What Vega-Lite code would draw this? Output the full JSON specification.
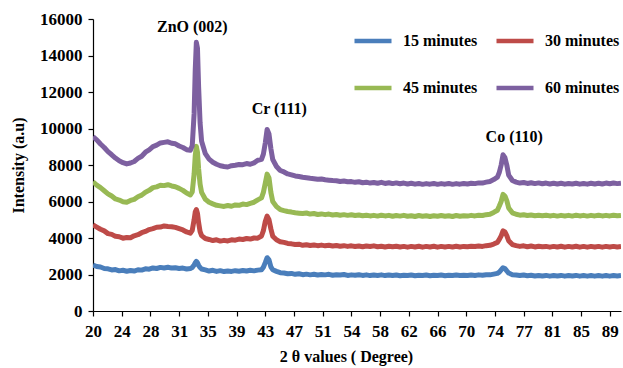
{
  "$schema": "https://vega.github.io/schema/vega-lite/v6.json",
  "width": 528,
  "height": 292,
  "autosize": "none",
  "padding": {"left": 93, "top": 19, "right": 2, "bottom": 57},
  "background": "white",
  "config": {
    "view": {"stroke": null},
    "font": "Liberation Serif",
    "axis": {"labelFont": "Liberation Serif", "titleFont": "Liberation Serif", "labelFontWeight": "bold", "titleFontWeight": "bold", "labelFontSize": 17, "titleFontSize": 16, "labelColor": "#000", "titleColor": "#000", "domainColor": "#000", "tickColor": "#000", "domainWidth": 1.2, "tickWidth": 1.2, "tickSize": 5, "grid": false, "labelOverlap": false}
  },
  "datasets": {
    "xrd": [
      {"t":20,"15":2520,"30":4720,"45":7080,"60":9550},
      {"t":20.5,"15":2440,"30":4600,"45":6900,"60":9380},
      {"t":21,"15":2410,"30":4480,"45":6760,"60":9150},
      {"t":21.5,"15":2330,"30":4390,"45":6590,"60":8960},
      {"t":22,"15":2310,"30":4240,"45":6420,"60":8730},
      {"t":22.5,"15":2250,"30":4200,"45":6300,"60":8560},
      {"t":23,"15":2270,"30":4090,"45":6140,"60":8380},
      {"t":23.5,"15":2200,"30":4070,"45":6080,"60":8230},
      {"t":24,"15":2230,"30":3990,"45":5990,"60":8130},
      {"t":24.5,"15":2180,"30":4030,"45":5960,"60":8060},
      {"t":25,"15":2220,"30":4010,"45":6060,"60":8110},
      {"t":25.5,"15":2190,"30":4120,"45":6120,"60":8190},
      {"t":26,"15":2260,"30":4180,"45":6260,"60":8360},
      {"t":26.5,"15":2240,"30":4290,"45":6350,"60":8480},
      {"t":27,"15":2310,"30":4360,"45":6510,"60":8700},
      {"t":27.5,"15":2290,"30":4460,"45":6610,"60":8830},
      {"t":28,"15":2360,"30":4510,"45":6760,"60":9010},
      {"t":28.5,"15":2330,"30":4590,"45":6800,"60":9090},
      {"t":29,"15":2390,"30":4600,"45":6890,"60":9210},
      {"t":29.5,"15":2360,"30":4660,"45":6870,"60":9240},
      {"t":30,"15":2400,"30":4630,"45":6920,"60":9270},
      {"t":30.5,"15":2350,"30":4620,"45":6850,"60":9190},
      {"t":31,"15":2370,"30":4580,"45":6810,"60":9160},
      {"t":31.5,"15":2330,"30":4510,"45":6720,"60":9040},
      {"t":32,"15":2350,"30":4440,"45":6610,"60":8960},
      {"t":32.5,"15":2300,"30":4330,"45":6460,"60":8840},
      {"t":33,"15":2330,"30":4260,"45":6360,"60":8810},
      {"t":33.25,"15":2380,"30":4420,"45":6520,"60":9050},
      {"t":33.5,"15":2520,"30":5000,"45":7500,"60":10800},
      {"t":33.65,"15":2640,"30":5420,"45":8500,"60":13200},
      {"t":33.8,"15":2720,"30":5560,"45":9020,"60":14720},
      {"t":33.95,"15":2640,"30":5350,"45":8700,"60":14400},
      {"t":34.1,"15":2500,"30":4850,"45":7800,"60":12300},
      {"t":34.3,"15":2380,"30":4350,"45":6950,"60":10300},
      {"t":34.5,"15":2300,"30":4130,"45":6500,"60":9300},
      {"t":35,"15":2250,"30":3970,"45":6120,"60":8620},
      {"t":35.5,"15":2190,"30":3920,"45":5960,"60":8320},
      {"t":36,"15":2230,"30":3860,"45":5870,"60":8150},
      {"t":36.5,"15":2170,"30":3900,"45":5790,"60":8040},
      {"t":37,"15":2210,"30":3830,"45":5760,"60":7960},
      {"t":37.5,"15":2160,"30":3870,"45":5730,"60":7920},
      {"t":38,"15":2190,"30":3840,"45":5780,"60":7890},
      {"t":38.5,"15":2170,"30":3900,"45":5740,"60":7960},
      {"t":39,"15":2210,"30":3880,"45":5810,"60":7990},
      {"t":39.5,"15":2180,"30":3940,"45":5790,"60":8030},
      {"t":40,"15":2220,"30":3920,"45":5860,"60":8020},
      {"t":40.5,"15":2190,"30":3970,"45":5830,"60":8080},
      {"t":41,"15":2230,"30":3940,"45":5900,"60":8040},
      {"t":41.5,"15":2200,"30":4000,"45":5960,"60":8120},
      {"t":42,"15":2240,"30":3990,"45":6090,"60":8260},
      {"t":42.5,"15":2260,"30":4110,"45":6200,"60":8310},
      {"t":42.75,"15":2400,"30":4400,"45":6500,"60":8600},
      {"t":43,"15":2650,"30":4900,"45":7000,"60":9200},
      {"t":43.25,"15":2920,"30":5200,"45":7500,"60":9950},
      {"t":43.5,"15":2800,"30":5000,"45":7300,"60":9700},
      {"t":43.75,"15":2420,"30":4500,"45":6500,"60":8900},
      {"t":44,"15":2260,"30":4100,"45":6000,"60":8300},
      {"t":44.5,"15":2170,"30":3900,"45":5720,"60":7920},
      {"t":45,"15":2100,"30":3790,"45":5560,"60":7700},
      {"t":45.5,"15":2080,"30":3760,"45":5500,"60":7620},
      {"t":46,"15":2040,"30":3700,"45":5450,"60":7510},
      {"t":46.5,"15":2060,"30":3680,"45":5420,"60":7460},
      {"t":47,"15":2010,"30":3640,"45":5380,"60":7400},
      {"t":47.5,"15":2040,"30":3660,"45":5360,"60":7370},
      {"t":48,"15":1990,"30":3600,"45":5340,"60":7330},
      {"t":48.5,"15":2020,"30":3630,"45":5370,"60":7300},
      {"t":49,"15":1980,"30":3590,"45":5310,"60":7270},
      {"t":49.5,"15":2010,"30":3620,"45":5340,"60":7250},
      {"t":50,"15":1970,"30":3580,"45":5290,"60":7220},
      {"t":50.5,"15":2000,"30":3610,"45":5320,"60":7230},
      {"t":51,"15":1980,"30":3570,"45":5280,"60":7190},
      {"t":51.5,"15":2010,"30":3600,"45":5310,"60":7170},
      {"t":52,"15":1960,"30":3560,"45":5260,"60":7150},
      {"t":52.5,"15":1990,"30":3590,"45":5290,"60":7140},
      {"t":53,"15":1970,"30":3550,"45":5250,"60":7100},
      {"t":53.5,"15":2000,"30":3580,"45":5280,"60":7120},
      {"t":54,"15":1950,"30":3540,"45":5240,"60":7080},
      {"t":54.5,"15":1980,"30":3570,"45":5270,"60":7090},
      {"t":55,"15":1960,"30":3530,"45":5230,"60":7050},
      {"t":55.5,"15":1990,"30":3560,"45":5260,"60":7080},
      {"t":56,"15":1950,"30":3520,"45":5220,"60":7030},
      {"t":56.5,"15":1980,"30":3560,"45":5250,"60":7060},
      {"t":57,"15":1940,"30":3530,"45":5210,"60":7010},
      {"t":57.5,"15":1970,"30":3570,"45":5240,"60":7040},
      {"t":58,"15":1950,"30":3520,"45":5200,"60":7000},
      {"t":58.5,"15":1980,"30":3550,"45":5250,"60":7050},
      {"t":59,"15":1940,"30":3510,"45":5210,"60":6990},
      {"t":59.5,"15":1970,"30":3550,"45":5240,"60":7030},
      {"t":60,"15":1940,"30":3520,"45":5190,"60":6980},
      {"t":60.5,"15":1970,"30":3550,"45":5230,"60":7020},
      {"t":61,"15":1930,"30":3510,"45":5200,"60":6970},
      {"t":61.5,"15":1960,"30":3540,"45":5240,"60":7010},
      {"t":62,"15":1940,"30":3500,"45":5190,"60":6960},
      {"t":62.5,"15":1970,"30":3540,"45":5220,"60":7000},
      {"t":63,"15":1930,"30":3510,"45":5180,"60":6950},
      {"t":63.5,"15":1960,"30":3550,"45":5230,"60":6990},
      {"t":64,"15":1940,"30":3500,"45":5190,"60":6940},
      {"t":64.5,"15":1970,"30":3540,"45":5220,"60":6980},
      {"t":65,"15":1930,"30":3510,"45":5180,"60":6950},
      {"t":65.5,"15":1960,"30":3550,"45":5220,"60":6990},
      {"t":66,"15":1940,"30":3500,"45":5190,"60":6940},
      {"t":66.5,"15":1970,"30":3540,"45":5230,"60":6980},
      {"t":67,"15":1930,"30":3510,"45":5190,"60":6950},
      {"t":67.5,"15":1960,"30":3540,"45":5220,"60":6990},
      {"t":68,"15":1940,"30":3510,"45":5180,"60":6940},
      {"t":68.5,"15":1970,"30":3550,"45":5230,"60":6980},
      {"t":69,"15":1940,"30":3510,"45":5190,"60":6950},
      {"t":69.5,"15":1960,"30":3540,"45":5220,"60":6990},
      {"t":70,"15":1940,"30":3520,"45":5200,"60":6960},
      {"t":70.5,"15":1970,"30":3550,"45":5240,"60":7000},
      {"t":71,"15":1950,"30":3530,"45":5210,"60":6980},
      {"t":71.5,"15":1980,"30":3560,"45":5250,"60":7020},
      {"t":72,"15":1960,"30":3540,"45":5230,"60":7010},
      {"t":72.5,"15":1990,"30":3580,"45":5280,"60":7060},
      {"t":73,"15":1980,"30":3600,"45":5300,"60":7100},
      {"t":73.5,"15":2020,"30":3670,"45":5400,"60":7200},
      {"t":74,"15":2060,"30":3760,"45":5520,"60":7330},
      {"t":74.25,"15":2130,"30":3920,"45":5750,"60":7600},
      {"t":74.5,"15":2250,"30":4120,"45":6000,"60":8000},
      {"t":74.75,"15":2370,"30":4390,"45":6390,"60":8560},
      {"t":75,"15":2330,"30":4330,"45":6300,"60":8400},
      {"t":75.25,"15":2200,"30":4130,"45":6050,"60":8000},
      {"t":75.5,"15":2080,"30":3850,"45":5650,"60":7450},
      {"t":76,"15":1990,"30":3640,"45":5380,"60":7150},
      {"t":76.5,"15":1970,"30":3580,"45":5300,"60":7060},
      {"t":77,"15":1940,"30":3540,"45":5250,"60":7010},
      {"t":77.5,"15":1970,"30":3570,"45":5270,"60":7040},
      {"t":78,"15":1930,"30":3520,"45":5230,"60":6990},
      {"t":78.5,"15":1960,"30":3560,"45":5260,"60":7030},
      {"t":79,"15":1920,"30":3510,"45":5220,"60":6980},
      {"t":79.5,"15":1950,"30":3550,"45":5250,"60":7020},
      {"t":80,"15":1920,"30":3520,"45":5220,"60":6970},
      {"t":80.5,"15":1950,"30":3540,"45":5250,"60":7010},
      {"t":81,"15":1910,"30":3500,"45":5210,"60":6960},
      {"t":81.5,"15":1940,"30":3540,"45":5240,"60":7000},
      {"t":82,"15":1920,"30":3510,"45":5200,"60":6960},
      {"t":82.5,"15":1950,"30":3550,"45":5240,"60":7000},
      {"t":83,"15":1910,"30":3500,"45":5210,"60":6950},
      {"t":83.5,"15":1940,"30":3540,"45":5240,"60":6990},
      {"t":84,"15":1920,"30":3510,"45":5200,"60":6960},
      {"t":84.5,"15":1950,"30":3550,"45":5250,"60":7000},
      {"t":85,"15":1910,"30":3500,"45":5210,"60":6950},
      {"t":85.5,"15":1940,"30":3540,"45":5240,"60":6990},
      {"t":86,"15":1910,"30":3500,"45":5200,"60":6950},
      {"t":86.5,"15":1940,"30":3540,"45":5240,"60":7000},
      {"t":87,"15":1910,"30":3510,"45":5210,"60":6960},
      {"t":87.5,"15":1940,"30":3540,"45":5250,"60":7000},
      {"t":88,"15":1910,"30":3500,"45":5210,"60":6960},
      {"t":88.5,"15":1940,"30":3540,"45":5240,"60":7010},
      {"t":89,"15":1910,"30":3510,"45":5210,"60":6970},
      {"t":89.5,"15":1940,"30":3540,"45":5250,"60":7010},
      {"t":90,"15":1920,"30":3510,"45":5220,"60":6980},
      {"t":90.5,"15":1940,"30":3530,"45":5240,"60":7000}
    ],
    "peaks": [
      {"t":33.26,"v":15550,"text":"ZnO (002)"},
      {"t":44.87,"v":11050,"text":"Cr (111)"},
      {"t":76.25,"v":9520,"text":"Co (110)"}
    ]
  },
  "encoding": {
    "x": {"field": "t", "type": "quantitative", "scale": {"domain": [20, 90.5], "nice": false, "zero": false},
          "axis": {"title": "2 θ values ( Degree)", "values": [20,23.8333,27.6667,31.5,35.3333,39.1667,43,46.8333,50.6667,54.5,58.3333,62.1667,66,69.8333,73.6667,77.5,81.3333,85.1667,89], "labelExpr": "format(datum.value - 0.01, '.0f')", "labelPadding": 7, "titlePadding": 9, "titleX": 253, "labelFlush": false, "labelOverlap": false}},
    "y": {"field": "v", "type": "quantitative", "scale": {"domain": [0, 16000], "nice": false},
          "axis": {"title": "Intensity (a.u)", "values": [0,2000,4000,6000,8000,10000,12000,14000,16000], "format": "d", "labelPadding": 6, "titlePadding": 13, "labelOverlap": false}}
  },
  "layer": [
    {
      "data": {"name": "xrd"},
      "transform": [{"fold": ["15", "30", "45", "60"], "as": ["series", "v"]}],
      "mark": {"type": "line", "strokeWidth": 5, "strokeJoin": "round", "clip": true},
      "encoding": {
        "color": {"field": "series", "type": "nominal",
                  "scale": {"domain": ["15", "30", "45", "60"], "range": ["#4A7EBB", "#BE4B48", "#98B954", "#7D60A0"]},
                  "legend": {"title": null, "orient": "none", "direction": "horizontal", "legendX": 259, "legendY": 1, "columns": 2, "symbolType": "stroke", "symbolSize": 1369, "symbolStrokeWidth": 4.5, "labelFont": "Liberation Serif", "labelFontWeight": "bold", "labelFontSize": 16, "labelColor": "#000", "labelOffset": 9, "columnPadding": 9, "rowPadding": 17, "padding": 0, "labelExpr": "datum.label + ' minutes'"}}
      }
    },
    {
      "data": {"name": "peaks"},
      "mark": {"type": "text", "font": "Liberation Serif", "fontWeight": "bold", "fontSize": 16, "color": "#000", "align": "center", "baseline": "middle"},
      "encoding": {
        "text": {"field": "text"}
      }
    }
  ]
}
